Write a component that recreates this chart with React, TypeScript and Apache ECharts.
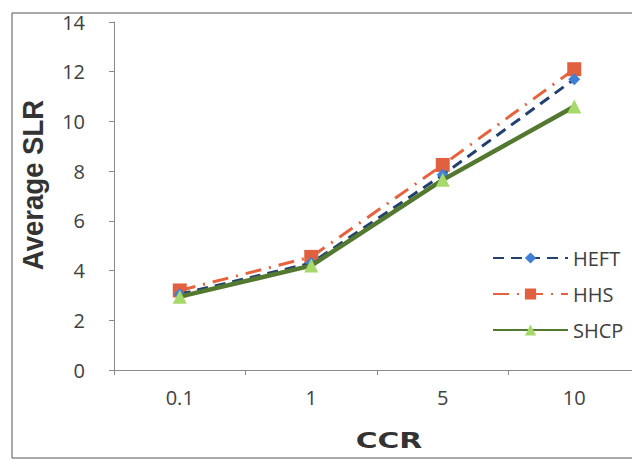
import React, { useEffect, useRef } from "react";
import * as echarts from "echarts";

const categories = ["0.1", "1", "5", "10"];
const heft = [3.05, 4.3, 7.85, 11.7];
const hhs = [3.2, 4.55, 8.25, 12.1];
const shcp = [2.95, 4.2, 7.65, 10.6];

export default function App() {
  const ref = useRef<HTMLDivElement>(null);
  useEffect(() => {
    const chart = echarts.init(ref.current!, null, { renderer: "svg" });
    const tickFont = { fontFamily: "Open Sans", fontSize: 20, color: "#404040" };
    chart.setOption({
      animation: false,
      backgroundColor: "#fff",
      grid: { left: 106, top: 14, width: 528, height: 348 },
      graphic: [
        {
          type: "rect",
          shape: { x: 4, y: 5, width: 622, height: 445 },
          style: { fill: "none", stroke: "#555", lineWidth: 1 },
          silent: true,
        },
        {
          type: "text",
          x: 25,
          y: 177,
          rotation: Math.PI / 2,
          scaleX: 0.95,
          style: {
            text: "Average SLR",
            fontFamily: "Liberation Sans",
            fontWeight: "bold",
            fontSize: 29,
            fill: "#333",
            textAlign: "center",
            textVerticalAlign: "middle",
          },
          silent: true,
        },
        {
          type: "text",
          x: 381,
          y: 432,
          scaleX: 1.35,
          style: {
            text: "CCR",
            fontFamily: "DejaVu Sans",
            fontWeight: "bold",
            fontSize: 22,
            fill: "#333",
            textAlign: "center",
            textVerticalAlign: "middle",
          },
          silent: true,
        },
      ],
      xAxis: {
        type: "category",
        data: categories,
        boundaryGap: true,
        axisLine: { lineStyle: { color: "#8a8a8a", width: 1 } },
        axisTick: { show: true, length: 5, lineStyle: { color: "#8a8a8a" } },
        axisLabel: { ...tickFont, margin: 17 },
      },
      yAxis: {
        type: "value",
        min: 0,
        max: 14,
        interval: 2,
        axisLine: { show: true, lineStyle: { color: "#8a8a8a", width: 1 } },
        axisTick: { show: true, length: 5, lineStyle: { color: "#8a8a8a" } },
        splitLine: { show: false },
        axisLabel: { ...tickFont, margin: 29 },
      },
      legend: {
        orient: "vertical",
        left: 479,
        top: 235,
        itemWidth: 75,
        itemHeight: 14,
        itemGap: 16,
        textStyle: { fontFamily: "Open Sans", fontSize: 20, color: "#404040" },
        data: ["HEFT", "HHS", "SHCP"],
      },
      series: [
        {
          name: "HEFT",
          type: "line",
          data: heft,
          symbol: "diamond",
          symbolSize: 12,
          itemStyle: { color: "#3F7FD6" },
          lineStyle: { color: "#23406F", width: 3, type: [11, 7] },
          z: 3,
        },
        {
          name: "HHS",
          type: "line",
          data: hhs,
          symbol: "rect",
          symbolSize: 14,
          itemStyle: { color: "#E0603F" },
          lineStyle: { color: "#E8623E", width: 3, type: [16, 8, 2, 8] },
          z: 2,
        },
        {
          name: "SHCP",
          type: "line",
          data: shcp,
          symbol: "triangle",
          symbolSize: 14,
          itemStyle: { color: "#A6D86A" },
          lineStyle: { color: "#52792F", width: 4.5, type: "solid" },
          z: 4,
        },
      ],
    });
    return () => chart.dispose();
  }, []);
  return <div ref={ref} style={{ width: 632, height: 452 }} />;
}
